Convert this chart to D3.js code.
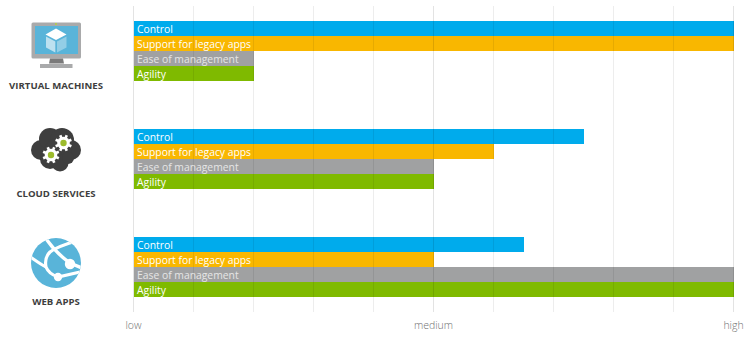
<!DOCTYPE html>
<html><head><meta charset="utf-8">
<script src="https://cdnjs.cloudflare.com/ajax/libs/d3/7.8.5/d3.min.js"></script>
<style>html,body{margin:0;padding:0;background:#fff}svg{display:block}text{font-family:"Open Sans",sans-serif}</style>
</head><body><svg id="c" width="753" height="351"></svg>
<script>
const services=["VIRTUAL MACHINES","CLOUD SERVICES","WEB APPS"];
const metrics=["Control","Support for legacy apps","Ease of management","Agility"];
const metricColors=["#00abec","#f9b700","#a0a1a2","#7fba00"];
const virtualMachines=[10,10,2,2];
const cloudServices=[7.5,6,5,5];
const webApps=[6.5,5,10,10];
const gridTicks=[0,1,2,3,4,5,6,7,8,9,10];
const tickLabels=[[0,"low"],[5,"medium"],[10,"high"]];
const seriesValues=[virtualMachines,cloudServices,webApps];

const svg=d3.select("#c");
const x=d3.scaleLinear().domain([0,10]).range([134,734]);
const groupY=d3.scaleBand().domain(services).range([21,345]);
const barY=d3.scaleBand().domain(metrics).range([0,60]);

const groups=svg.selectAll("g.group").data(services).join("g").attr("class","group")
  .attr("transform",d=>`translate(0,${groupY(d)})`);
groups.each(function(s,i){
  const g=d3.select(this);
  g.selectAll("rect").data(metrics).join("rect")
    .attr("x",x(0)).attr("y",m=>barY(m))
    .attr("width",(m,j)=>x(seriesValues[i][j])-x(0))
    .attr("height",barY.bandwidth())
    .attr("fill",(m,j)=>metricColors[j]);
  g.selectAll("text.bl").data(metrics).join("text").attr("class","bl")
    .attr("x",137).attr("y",m=>barY(m)+11.5)
    .attr("font-size",10.35)
    .attr("fill",(m,j)=>j==2?"#e6e6e6":"#fff")
    .text(m=>m);
  g.append("text").attr("x",56).attr("y",67.5).attr("text-anchor","middle")
    .attr("font-size",9.6).attr("font-weight",700).attr("fill","#3e3e3e").text(s);
});

svg.selectAll("line.grid").data(gridTicks).join("line").attr("class","grid")
  .attr("x1",d=>x(d)-0.5).attr("x2",d=>x(d)-0.5).attr("y1",6).attr("y2",312)
  .attr("stroke","#000").attr("stroke-opacity",d=>d%5==0?0.11:0.07);

svg.selectAll("text.tick").data(tickLabels).join("text").attr("class","tick")
  .attr("x",d=>x(d[0])-0.5).attr("y",329).attr("text-anchor","middle")
  .attr("font-size",10.5).attr("font-weight",300).attr("fill","#707070").text(d=>d[1]);

// icons
const vm=svg.append("g");
vm.append("rect").attr("x",31.5).attr("y",22.5).attr("width",49.5).attr("height",36).attr("rx",1.5).attr("fill","#a9aaab");
vm.append("rect").attr("x",35).attr("y",26).attr("width",43).attr("height",28).attr("fill","#59b4d9");
vm.append("path").attr("d","M50 58.5h13l1 5H49z").attr("fill","#7a7a7a");
vm.append("rect").attr("x",40).attr("y",64).attr("width",32.5).attr("height",4).attr("fill","#a9aaab");
vm.append("path").attr("d","M56 28.5L66.5 34.5L56 40L45.5 34.5z").attr("fill","#fff");
vm.append("path").attr("d","M46 36.5L55.3 41.5V52.5L46 47.5z").attr("fill","#fff").attr("opacity",0.6);
vm.append("path").attr("d","M66.5 36.5L57 41.5V52.5L66.5 47.5z").attr("fill","#fff").attr("opacity",0.35);
vm.append("circle").attr("cx",56).attr("cy",24).attr("r",0.9).attr("fill","#b8d432");

const cs=svg.append("g");
[[41,150,10],[50,139,11],[62,140,12],[71,150,10],[58,152,14],[50,159,10],[60,163,8.5],[68,158,6]].forEach(c=>
  cs.append("circle").attr("cx",c[0]).attr("cy",c[1]).attr("r",c[2]).attr("fill","#3e3e3e"));
function gear(cx,cy,R){
  const g=cs.append("g").attr("transform",`translate(${cx},${cy})`);
  d3.range(8).forEach(k=>g.append("rect").attr("x",-1.3).attr("y",-R).attr("width",2.6).attr("height",R)
    .attr("fill","#fff").attr("transform",`rotate(${k*45+22.5})`));
  g.append("circle").attr("r",R-2.2).attr("fill","#fff");
  g.append("circle").attr("r",3.2).attr("fill","#9cbb2c");
}
gear(63.5,143,8.5);gear(51,155,8.5);

const wa=svg.append("g");
wa.append("clipPath").attr("id","globe").append("circle").attr("cx",56).attr("cy",263).attr("r",25);
wa.append("circle").attr("cx",56).attr("cy",263).attr("r",25).attr("fill","#59b4d9");
const w=wa.append("g").attr("clip-path","url(#globe)").attr("fill","none").attr("stroke","#fff");
w.append("path").attr("d","M44 236C52 248 60 256 70 263L82 268").attr("stroke-width",3.4);
w.append("path").attr("d","M76 241C66 244 56 247 50 252C46 256 45 262 46 267C48 272 52 275 58 277L80 272").attr("stroke-width",3.2);
w.append("path").attr("d","M29 256C35 260 40 264 46 267").attr("stroke-width",3);
wa.append("circle").attr("cx",70).attr("cy",264).attr("r",5.2).attr("fill","#fff");
wa.append("circle").attr("cx",58).attr("cy",277).attr("r",4.2).attr("fill","#fff");
</script></body></html>
